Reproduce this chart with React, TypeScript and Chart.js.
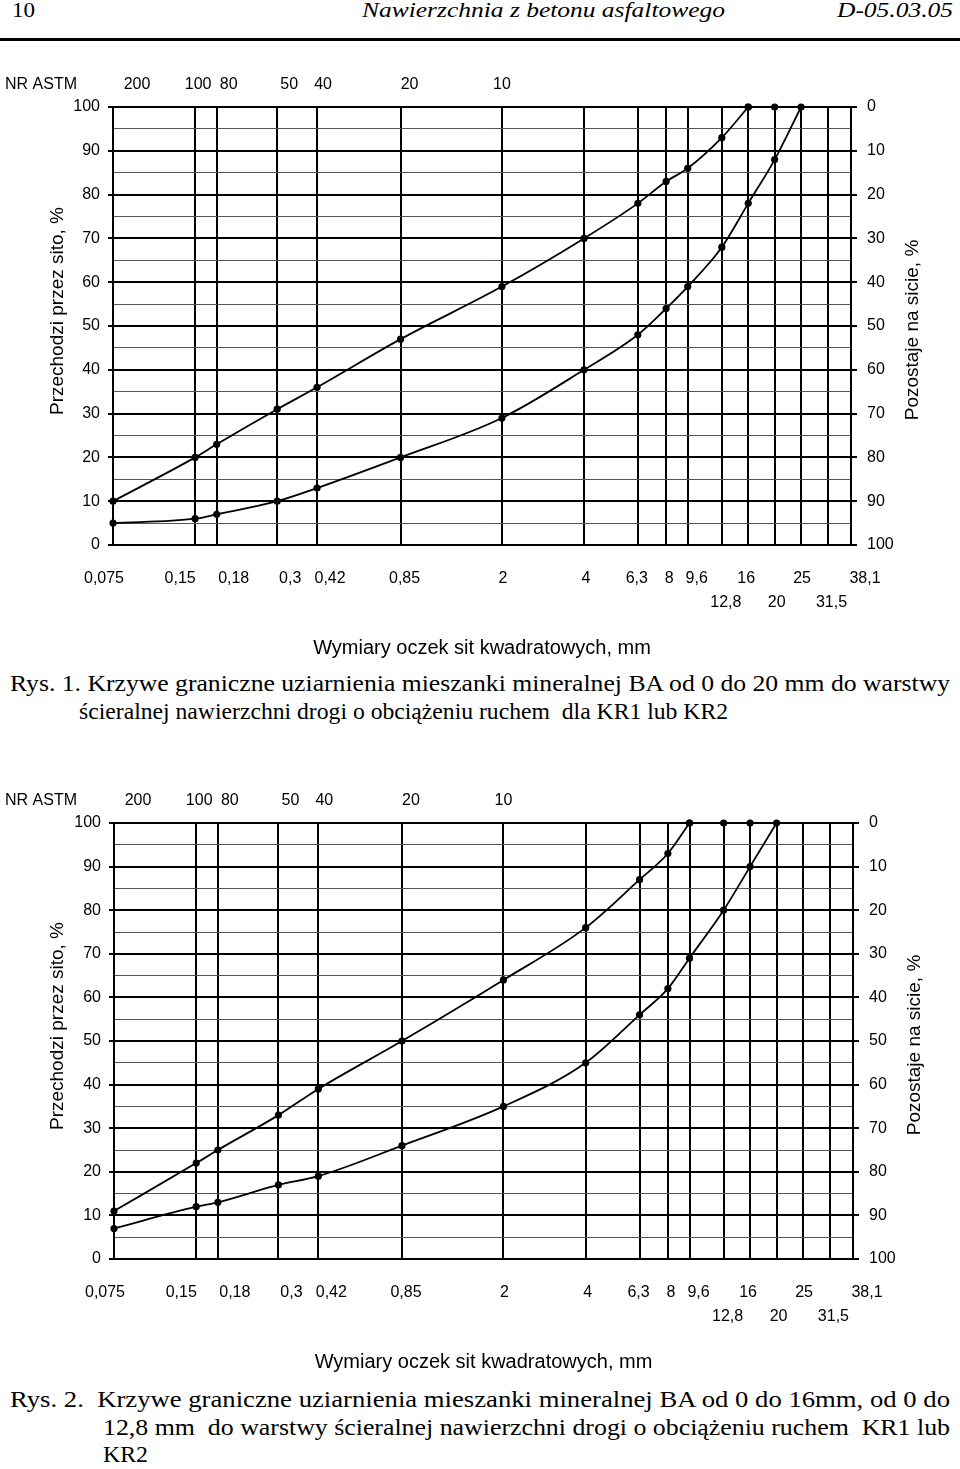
import React, { useEffect, useLayoutEffect, useRef, useState } from 'react';
import { Chart, registerables } from 'chart.js';

Chart.register(...registerables);

// ---- data ----
const SIEVE_SIZES = [0.075, 0.15, 0.18, 0.3, 0.42, 0.85, 2, 4, 6.3, 8, 9.6, 12.8, 16, 20, 25, 31.5, 38.1];
const SIEVE_LABELS = ['0,075', '0,15', '0,18', '0,3', '0,42', '0,85', '2', '4', '6,3', '8', '9,6', '12,8', '16', '20', '25', '31,5', '38,1'];
const SIEVE_LABEL_ROW = [1, 1, 1, 1, 1, 1, 1, 1, 1, 1, 1, 2, 1, 2, 1, 2, 1];
const ASTM_SIZES = [0.075, 0.15, 0.18, 0.3, 0.42, 0.85, 2];
const ASTM_LABELS = ['200', '100', '80', '50', '40', '20', '10'];

// Rys. 1 (BA 0/20)
const FIG1_UPPER_SIZES = [0.075, 0.15, 0.18, 0.3, 0.42, 0.85, 2, 4, 6.3, 8, 9.6, 12.8, 16, 20];
const FIG1_UPPER = [10, 20, 23, 31, 36, 47, 59, 70, 78, 83, 86, 93, 100, 100];
const FIG1_LOWER_SIZES = [0.075, 0.15, 0.18, 0.3, 0.42, 0.85, 2, 4, 6.3, 8, 9.6, 12.8, 16, 20, 25];
const FIG1_LOWER = [5, 6, 7, 10, 13, 20, 29, 40, 48, 54, 59, 68, 78, 88, 100];

// Rys. 2 (BA 0/16, 0/12,8)
const FIG2_UPPER_SIZES = [0.075, 0.15, 0.18, 0.3, 0.42, 0.85, 2, 4, 6.3, 8, 9.6, 12.8, 16];
const FIG2_UPPER = [11, 22, 25, 33, 39, 50, 64, 76, 87, 93, 100, 100, 100];
const FIG2_LOWER_SIZES = [0.075, 0.15, 0.18, 0.3, 0.42, 0.85, 2, 4, 6.3, 8, 9.6, 12.8, 16, 20];
const FIG2_LOWER = [7, 12, 13, 17, 19, 26, 35, 45, 56, 62, 69, 80, 90, 100];

const X_TITLE = 'Wymiary oczek sit kwadratowych, mm';
const Y_TITLE = 'Przechodzi przez sito, %';
const Y2_TITLE = 'Pozostaje na sicie, %';
const ASTM_TITLE = 'NR ASTM';

// ---- label styling (nudges relative to sieve grid lines) ----
const SIEVE_LABEL_NUDGE = [-9, -15, 17, 13, 13, 4, 1, 2, -1, 3, 9, 4, -2, 2, 1, 3, 14];
const ASTM_LABEL_NUDGE = [24, 3, 12, 12, 6, 9, 0];

const SANS = '"Liberation Sans", Arial, Helvetica, sans-serif';
const SERIF = '"Liberation Serif", "Times New Roman", serif';

const overlayPlugin = {
  id: 'sieveOverlay',
  afterDraw(chart: any) {
    const { ctx, chartArea: a, scales } = chart;
    const xs = scales.x;
    ctx.save();
    ctx.fillStyle = '#000';
    ctx.textBaseline = 'middle';
    ctx.font = `16px ${SANS}`;
    ctx.textAlign = 'center';
    SIEVE_SIZES.forEach((v, i) => {
      const px = xs.getPixelForValue(v) + SIEVE_LABEL_NUDGE[i];
      const py = a.bottom + (SIEVE_LABEL_ROW[i] === 1 ? 34 : 58);
      ctx.fillText(SIEVE_LABELS[i], px, py);
    });
    ASTM_SIZES.forEach((v, i) => {
      const px = xs.getPixelForValue(v) + ASTM_LABEL_NUDGE[i];
      ctx.fillText(ASTM_LABELS[i], px, a.top - 22);
    });
    ctx.textAlign = 'left';
    ctx.fillText(ASTM_TITLE, 5, a.top - 22);

    ctx.font = `19px ${SANS}`;
    ctx.textAlign = 'center';
    const mid = (a.top + a.bottom) / 2;
    ctx.save();
    ctx.translate(58, mid - 15);
    ctx.rotate(-Math.PI / 2);
    ctx.fillText(Y_TITLE, 0, 0);
    ctx.restore();
    ctx.save();
    ctx.translate(a.right + 62, mid + 4);
    ctx.rotate(-Math.PI / 2);
    ctx.fillText(Y2_TITLE, 0, 0);
    ctx.restore();
    ctx.restore();
  },
};

const baseStyle = {
  borderColor: '#000',
  backgroundColor: '#000',
  pointBackgroundColor: '#000',
  pointBorderColor: '#000',
  pointRadius: 3.6,
  pointBorderWidth: 0,
  borderWidth: 1.8,
  clip: false,
  yAxisID: 'y',
};

// A curve is drawn as a line up to the point where it first reaches 100 %;
// the remaining 100 % points are drawn as markers only.
function curveDatasets(sizes: number[], vals: number[]) {
  const pts = sizes.map((x, i) => ({ x, y: vals[i] }));
  const first = vals.indexOf(100);
  const cut = first < 0 ? pts.length : first + 1;
  const sets: any[] = [
    { ...baseStyle, data: pts.slice(0, cut), showLine: true, cubicInterpolationMode: 'monotone' },
  ];
  if (cut < pts.length) {
    sets.push({ ...baseStyle, data: pts.slice(cut - 1), showLine: true, borderWidth: 1.8 });
  }
  return sets;
}

type ChartProps = {
  top: number;
  height: number;
  padTop: number;
  leftW: number;
  rightW: number;
  bottomH: number;
  titlePad: number;
  upperSizes: number[];
  upper: number[];
  lowerSizes: number[];
  lower: number[];
};

function GradingChart(p: ChartProps) {
  const ref = useRef<HTMLCanvasElement>(null);
  useEffect(() => {
    const isMajor = (ctx: any) => ctx.tick && ctx.tick.value % 10 === 0;
    const chart = new Chart(ref.current as HTMLCanvasElement, {
      type: 'scatter',
      data: {
        datasets: [...curveDatasets(p.upperSizes, p.upper), ...curveDatasets(p.lowerSizes, p.lower)],
      },
      options: {
        animation: false,
        responsive: true,
        maintainAspectRatio: false,
        layout: { padding: { top: p.padTop, left: 0, right: 0, bottom: 0 } },
        plugins: { legend: { display: false }, tooltip: { enabled: false } },
        scales: {
          x: {
            type: 'logarithmic',
            min: 0.075,
            max: 38.1,
            afterBuildTicks: (s: any) => {
              s.ticks = SIEVE_SIZES.map((v) => ({ value: v }));
            },
            afterFit: (s: any) => {
              s.height = p.bottomH;
            },
            ticks: { display: false },
            grid: { color: '#000', lineWidth: 2, drawTicks: false },
            border: { display: true, color: '#000', width: 2 },
            title: {
              display: true,
              text: X_TITLE,
              color: '#000',
              font: { family: SANS, size: 20 },
              padding: { top: 0, bottom: p.titlePad },
            },
          },
          y: {
            type: 'linear',
            position: 'left',
            min: 0,
            max: 100,
            afterFit: (s: any) => {
              s.width = p.leftW;
            },
            ticks: {
              stepSize: 5,
              autoSkip: false,
              color: '#000',
              font: { family: SANS, size: 16 },
              padding: 8,
              callback: (v: any) => (Number(v) % 10 === 0 ? String(v) : ''),
            },
            grid: {
              color: (ctx: any) => (isMajor(ctx) ? '#000' : '#555'),
              lineWidth: (ctx: any) => (isMajor(ctx) ? 2 : 1),
              tickColor: (ctx: any) => (isMajor(ctx) ? '#000' : 'rgba(0,0,0,0)'),
              tickLength: 5,
            },
            border: { display: true, color: '#000', width: 2 },
          },
          y2: {
            type: 'linear',
            position: 'right',
            min: 0,
            max: 100,
            reverse: true,
            afterFit: (s: any) => {
              s.width = p.rightW;
            },
            ticks: {
              stepSize: 10,
              color: '#000',
              font: { family: SANS, size: 16 },
              padding: 10,
            },
            grid: { drawOnChartArea: false, color: '#000', lineWidth: 2, tickLength: 6 },
            border: { display: true, color: '#000', width: 2 },
          },
        },
      } as any,
      plugins: [overlayPlugin],
    });
    return () => chart.destroy();
  }, []);
  return (
    <div style={{ position: 'absolute', left: 0, top: p.top, width: 960, height: p.height }}>
      <canvas ref={ref} />
    </div>
  );
}

type TextProps = {
  x: number;
  baseline: number;
  w: number;
  size: number;
  italic?: boolean;
  children: string;
};

function FitText({ x, baseline, w, size, italic, children }: TextProps) {
  const ref = useRef<HTMLSpanElement>(null);
  const [scale, setScale] = useState(1);
  useLayoutEffect(() => {
    if (ref.current) {
      const nat = ref.current.getBoundingClientRect().width;
      if (nat > 0) setScale(w / nat);
    }
  }, [w, children]);
  return (
    <span
      ref={ref}
      style={{
        position: 'absolute',
        left: x,
        top: baseline - 0.8375 * size,
        fontFamily: SERIF,
        fontSize: size,
        lineHeight: `${size}px`,
        fontStyle: italic ? 'italic' : 'normal',
        whiteSpace: 'pre',
        color: '#000',
        transform: `scaleX(${scale})`,
        transformOrigin: 'left top',
      }}
    >
      {children}
    </span>
  );
}

export default function App() {
  return (
    <div
      style={{
        position: 'absolute',
        left: 0,
        top: 0,
        width: 960,
        height: 1469,
        background: '#fff',
        overflow: 'hidden',
      }}
    >
      <FitText x={12} baseline={18} w={23} size={21}>10</FitText>
      <FitText x={362} baseline={18} w={363} size={21} italic>Nawierzchnia z betonu asfaltowego</FitText>
      <FitText x={837} baseline={18} w={116} size={21} italic>D-05.03.05</FitText>
      <div style={{ position: 'absolute', left: 0, top: 38, width: 960, height: 3, background: '#000' }} />

      <GradingChart
        top={60}
        height={610}
        padTop={47}
        leftW={113}
        rightW={109}
        bottomH={125}
        titlePad={10}
        upperSizes={FIG1_UPPER_SIZES}
        upper={FIG1_UPPER}
        lowerSizes={FIG1_LOWER_SIZES}
        lower={FIG1_LOWER}
      />
      <FitText x={10} baseline={691} w={940} size={24}>Rys. 1. Krzywe graniczne uziarnienia mieszanki mineralnej BA od 0 do 20 mm do warstwy</FitText>
      <FitText x={79} baseline={719} w={649} size={24}>ścieralnej nawierzchni drogi o obciążeniu ruchem  dla KR1 lub KR2</FitText>

      <GradingChart
        top={775}
        height={610}
        padTop={48}
        leftW={114}
        rightW={107}
        bottomH={126}
        titlePad={11}
        upperSizes={FIG2_UPPER_SIZES}
        upper={FIG2_UPPER}
        lowerSizes={FIG2_LOWER_SIZES}
        lower={FIG2_LOWER}
      />
      <FitText x={10} baseline={1407} w={940} size={24}>Rys. 2.  Krzywe graniczne uziarnienia mieszanki mineralnej BA od 0 do 16mm, od 0 do</FitText>
      <FitText x={103} baseline={1435} w={847} size={24}>12,8 mm  do warstwy ścieralnej nawierzchni drogi o obciążeniu ruchem  KR1 lub</FitText>
      <FitText x={103} baseline={1462} w={45} size={24}>KR2</FitText>
    </div>
  );
}
